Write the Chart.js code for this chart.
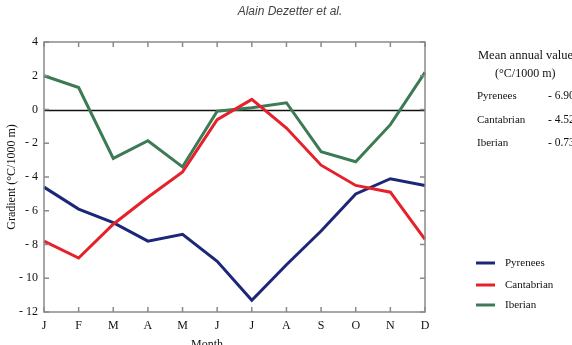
<!DOCTYPE html>
<html><head><meta charset="utf-8">
<script src="https://cdn.jsdelivr.net/npm/chart.js@4"></script>
<style>html,body{margin:0;padding:0;background:#fff}#wrap{width:572px;height:345px;position:relative}</style>
</head><body><div id="wrap"><canvas id="c" width="572" height="345"></canvas></div>
<script>
const months = ["J","F","M","A","M","J","J","A","S","O","N","D"];
const pyrenees = [-4.6,-5.9,-6.7,-7.8,-7.4,-9.0,-11.3,-9.2,-7.2,-5.0,-4.1,-4.5];
const cantabrian = [-7.8,-8.8,-6.8,-5.2,-3.7,-0.6,0.6,-1.1,-3.3,-4.5,-4.9,-7.7];
const iberian = [2.0,1.3,-2.9,-1.85,-3.4,-0.1,0.1,0.4,-2.5,-3.1,-0.9,2.2];
const yTicks = [4,2,0,-2,-4,-6,-8,-10,-12];
const seriesNames = ["Pyrenees","Cantabrian","Iberian"];
const meanValues = ["- 6.90","- 4.52","- 0.73"];
const colors = ["#1c2777","#e5212b","#3d7a56"];

const serif = "'Liberation Serif', 'DejaVu Serif', serif";

const framePlugin = {
  id:'frame',
  beforeDatasetsDraw(chart){
    const {ctx, chartArea:a, scales:{x,y}} = chart;
    ctx.save();
    const z = Math.round(y.getPixelForValue(0))+0.5;
    ctx.strokeStyle = '#111'; ctx.lineWidth = 1.5;
    ctx.beginPath(); ctx.moveTo(a.left, z); ctx.lineTo(a.right, z); ctx.stroke();
    ctx.restore();
  },
  afterDatasetsDraw(chart){
    const {ctx, chartArea:a, scales:{x,y}} = chart;
    ctx.save();
    ctx.strokeStyle = '#8a8a8a'; ctx.lineWidth = 1.5;
    ctx.strokeRect(a.left, a.top, a.right-a.left, a.bottom-a.top);
    ctx.beginPath();
    x.ticks.forEach((t,i)=>{
      const px = x.getPixelForTick(i);
      ctx.moveTo(px, a.top); ctx.lineTo(px, a.top+5);
      ctx.moveTo(px, a.bottom); ctx.lineTo(px, a.bottom-5);
    });
    y.ticks.forEach((t)=>{
      const py = y.getPixelForValue(t.value);
      ctx.moveTo(a.left, py); ctx.lineTo(a.left+5, py);
      ctx.moveTo(a.right, py); ctx.lineTo(a.right-5, py);
    });
    ctx.stroke();
    // header
    ctx.fillStyle = '#444';
    ctx.font = "italic 12px 'Liberation Sans', Arial, sans-serif";
    ctx.textAlign = 'center'; ctx.textBaseline = 'middle';
    ctx.fillText('Alain Dezetter et al.', 290, 12);
    // x axis title (partly cut by the bottom edge)
    ctx.fillStyle = '#111';
    ctx.font = "12px " + serif;
    ctx.textBaseline = 'top';
    ctx.fillText('Month', 207, 339);
    ctx.textBaseline = 'middle';
    // mean annual values panel
    ctx.textAlign = 'left';
    ctx.font = "12.5px " + serif;
    ctx.fillText('Mean annual values', 478, 56);
    ctx.font = "12px " + serif;
    ctx.fillText('(°C/1000 m)', 495, 74);
    ctx.font = "11px " + serif;
    const rowsY = [96, 120, 143];
    seriesNames.forEach((n,i)=>{
      ctx.fillText(n, 477, rowsY[i]);
      ctx.font = "11.5px " + serif;
      ctx.fillText(meanValues[i], 548, rowsY[i]);
      ctx.font = "11px " + serif;
    });
    // legend
    const legY = [263, 285, 305];
    chart.data.datasets.forEach((ds,i)=>{
      ctx.strokeStyle = ds.borderColor; ctx.lineWidth = 3;
      ctx.beginPath(); ctx.moveTo(476, legY[i]); ctx.lineTo(495, legY[i]); ctx.stroke();
      ctx.fillStyle = '#111';
      ctx.fillText(ds.label, 505, legY[i]);
    });
    ctx.restore();
  }
};

new Chart(document.getElementById('c'), {
  type:'line',
  data:{
    labels: months,
    datasets:[
      {label:seriesNames[0], data:pyrenees, borderColor:colors[0], order:3},
      {label:seriesNames[1], data:cantabrian, borderColor:colors[1], order:1},
      {label:seriesNames[2], data:iberian, borderColor:colors[2], order:2}
    ].map(d=>Object.assign(d,{borderWidth:3, pointRadius:0, fill:false, tension:0, borderJoinStyle:'miter'}))
  },
  options:{
    responsive:false, animation:false,
    layout:{padding:{left:0, top:42, right:147, bottom:0}},
    plugins:{legend:{display:false}, tooltip:{enabled:false}},
    scales:{
      x:{
        type:'category', offset:false,
        grid:{display:false, drawTicks:false},
        border:{display:false},
        ticks:{color:'#111', font:{family:serif, size:12}, padding:7, maxRotation:0, autoSkip:false},
        title:{display:false},
        afterFit(s){ s.height = 33; }
      },
      y:{
        min:-12, max:4,
        afterBuildTicks(s){ s.ticks = yTicks.map(v=>({value:v})); },
        grid:{display:false, drawTicks:false},
        border:{display:false},
        ticks:{color:'#111', font:{family:serif, size:12}, padding:6,
          callback:(v)=> v<0 ? '- ' + Math.abs(v) : String(v)},
        title:{display:true, text:'Gradient (°C/1000 m)', color:'#111', font:{family:serif, size:12}, padding:{top:5,bottom:0}},
        afterFit(s){ s.width = 44; }
      }
    }
  },
  plugins:[framePlugin]
});
</script></body></html>
